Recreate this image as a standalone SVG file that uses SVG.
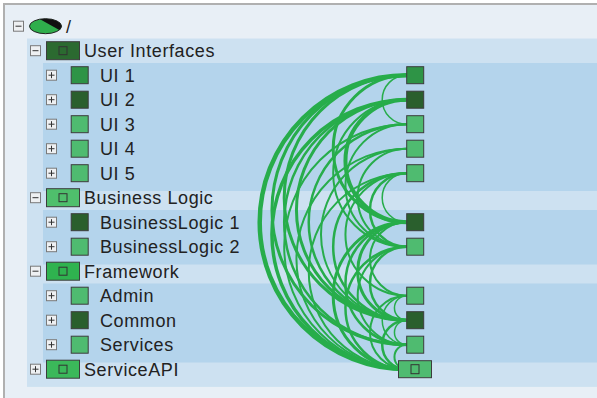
<svg xmlns="http://www.w3.org/2000/svg" width="597" height="398" viewBox="0 0 597 398">
<defs>
<style>
.t{font-family:"Liberation Sans",Arial,sans-serif;font-size:18px;fill:#222;letter-spacing:0.6px}
.exp{fill:#eef0f2;stroke:#7a7a7a;stroke-width:1}
.sign{stroke:#333;stroke-width:1}
.nb{stroke:#3c3c3c;stroke-width:1}
.dk{fill:#2a5f2d}.md{fill:#2e9446}.lt{fill:#4fbb70}
.e{fill:none;stroke:#27ad4b;stroke-linecap:round}
.w1{stroke-width:1.5}.w2{stroke-width:2}.w25{stroke-width:2.5}.w3{stroke-width:3}.w35{stroke-width:3.5}.w4{stroke-width:4}.w45{stroke-width:4.5}
.inner{fill:none;stroke:#333;stroke-width:1}
</style>
<clipPath id="rootclip"><ellipse cx="45.5" cy="26.2" rx="16" ry="7.5"/></clipPath>
</defs>
<rect x="0" y="0" width="597" height="398" fill="#ffffff"/>
<rect x="4" y="4" width="600" height="400" fill="#e8eff6" stroke="#b0b0b0" stroke-width="2"/>
<rect x="27" y="38.5" width="570" height="348.4" fill="#cde1f1"/>
<rect x="43" y="63" width="554" height="128" fill="#b4d4ec"/>
<rect x="43" y="210" width="554" height="54.5" fill="#b4d4ec"/>
<rect x="43" y="283.5" width="554" height="79" fill="#b4d4ec"/>

<g id="connectors">
<path class="e w1" d="M406.7,75.2 A24.5,24.5 0 0 0 406.7,124.2"/>
<path class="e w3" d="M406.7,75.2 A73.5,73.5 0 0 0 406.7,222.2"/>
<path class="e w3" d="M406.7,75.2 A122.5,122.5 0 0 0 406.7,320.2"/>
<path class="e w3" d="M406.7,75.2 A134.75,134.75 0 0 0 406.7,344.7"/>
<path class="e w45" d="M406.7,75.2 A147,147 0 0 0 406.7,369.2"/>
<path class="e w4" d="M406.7,99.7 A61.25,61.25 0 0 0 406.7,222.2"/>
<path class="e w2" d="M406.7,99.7 A73.5,73.5 0 0 0 406.7,246.7"/>
<path class="e w3" d="M406.7,99.7 A110.25,110.25 0 0 0 406.7,320.2"/>
<path class="e w25" d="M406.7,99.7 A122.5,122.5 0 0 0 406.7,344.7"/>
<path class="e w35" d="M406.7,99.7 A134.75,134.75 0 0 0 406.7,369.2"/>
<path class="e w2" d="M406.7,124.2 A61.25,61.25 0 0 0 406.7,246.7"/>
<path class="e w25" d="M406.7,124.2 A98,98 0 0 0 406.7,320.2"/>
<path class="e w2" d="M406.7,124.2 A122.5,122.5 0 0 0 406.7,369.2"/>
<path class="e w2" d="M406.7,148.7 A49,49 0 0 0 406.7,246.7"/>
<path class="e w2" d="M406.7,148.7 A85.75,85.75 0 0 0 406.7,320.2"/>
<path class="e w2" d="M406.7,148.7 A110.25,110.25 0 0 0 406.7,369.2"/>
<path class="e w1" d="M406.7,173.2 A24.5,24.5 0 0 0 406.7,222.2"/>
<path class="e w25" d="M406.7,173.2 A36.75,36.75 0 0 0 406.7,246.7"/>
<path class="e w2" d="M406.7,173.2 A61.25,61.25 0 0 0 406.7,295.7"/>
<path class="e w25" d="M406.7,173.2 A73.5,73.5 0 0 0 406.7,320.2"/>
<path class="e w2" d="M406.7,173.2 A98,98 0 0 0 406.7,369.2"/>
<path class="e w2" d="M406.7,222.2 A36.75,36.75 0 0 0 406.7,295.7"/>
<path class="e w3" d="M406.7,222.2 A49,49 0 0 0 406.7,320.2"/>
<path class="e w25" d="M406.7,222.2 A61.25,61.25 0 0 0 406.7,344.7"/>
<path class="e w3" d="M406.7,222.2 A73.5,73.5 0 0 0 406.7,369.2"/>
<path class="e w25" d="M406.7,246.7 A36.75,36.75 0 0 0 406.7,320.2"/>
<path class="e w2" d="M406.7,246.7 A49,49 0 0 0 406.7,344.7"/>
<path class="e w25" d="M406.7,246.7 A61.25,61.25 0 0 0 406.7,369.2"/>
<path class="e w1" d="M406.7,295.7 A12.25,12.25 0 0 0 406.7,320.2"/>
<path class="e w1" d="M406.7,295.7 A24.5,24.5 0 0 0 406.7,344.7"/>
<path class="e w2" d="M406.7,295.7 A36.75,36.75 0 0 0 406.7,369.2"/>
<path class="e w1" d="M406.7,320.2 A12.25,12.25 0 0 0 406.7,344.7"/>
<path class="e w25" d="M406.7,320.2 A24.5,24.5 0 0 0 406.7,369.2"/>
<path class="e w2" d="M406.7,344.7 A12.25,12.25 0 0 0 406.7,369.2"/>
</g>

<g id="root">
<rect class="exp" x="13.5" y="21.2" width="10" height="10"/>
<line class="sign" x1="15.5" y1="26.2" x2="21.5" y2="26.2"/>
<ellipse cx="45.5" cy="26.2" rx="16" ry="7.5" fill="#2fae4c"/>
<polygon clip-path="url(#rootclip)" points="36,17 62,17 62,31.5" fill="#111"/>
<ellipse cx="45.5" cy="26.2" rx="16" ry="7.5" fill="none" stroke="#222" stroke-width="1"/>
<text class="t" x="66" y="32.7">/</text>
</g>

<g id="user-interfaces">
<rect class="exp" x="30.5" y="45.7" width="10" height="10"/>
<line class="sign" x1="32.5" y1="50.7" x2="38.5" y2="50.7"/>
<rect class="nb" x="46.5" y="41.7" width="33" height="18" fill="#2b6a30"/>
<rect class="inner" x="59" y="46.7" width="8" height="8"/>
<text class="t" x="84" y="57.2">User Interfaces</text>
</g>

<g id="ui1">
<rect class="exp" x="46.5" y="70.2" width="10" height="10"/>
<line class="sign" x1="48.5" y1="75.2" x2="54.5" y2="75.2"/><line class="sign" x1="51.5" y1="72.2" x2="51.5" y2="78.2"/>
<rect class="nb md" x="71.2" y="66.7" width="17" height="17"/>
<text class="t" x="100" y="81.7">UI 1</text>
<rect class="nb md" x="406.7" y="66.7" width="17" height="17"/>
</g>
<g id="ui2">
<rect class="exp" x="46.5" y="94.7" width="10" height="10"/>
<line class="sign" x1="48.5" y1="99.7" x2="54.5" y2="99.7"/><line class="sign" x1="51.5" y1="96.7" x2="51.5" y2="102.7"/>
<rect class="nb dk" x="71.2" y="91.2" width="17" height="17"/>
<text class="t" x="100" y="106.2">UI 2</text>
<rect class="nb dk" x="406.7" y="91.2" width="17" height="17"/>
</g>
<g id="ui3">
<rect class="exp" x="46.5" y="119.2" width="10" height="10"/>
<line class="sign" x1="48.5" y1="124.2" x2="54.5" y2="124.2"/><line class="sign" x1="51.5" y1="121.2" x2="51.5" y2="127.2"/>
<rect class="nb lt" x="71.2" y="115.7" width="17" height="17"/>
<text class="t" x="100" y="130.7">UI 3</text>
<rect class="nb lt" x="406.7" y="115.7" width="17" height="17"/>
</g>
<g id="ui4">
<rect class="exp" x="46.5" y="143.7" width="10" height="10"/>
<line class="sign" x1="48.5" y1="148.7" x2="54.5" y2="148.7"/><line class="sign" x1="51.5" y1="145.7" x2="51.5" y2="151.7"/>
<rect class="nb lt" x="71.2" y="140.2" width="17" height="17"/>
<text class="t" x="100" y="155.2">UI 4</text>
<rect class="nb lt" x="406.7" y="140.2" width="17" height="17"/>
</g>
<g id="ui5">
<rect class="exp" x="46.5" y="168.2" width="10" height="10"/>
<line class="sign" x1="48.5" y1="173.2" x2="54.5" y2="173.2"/><line class="sign" x1="51.5" y1="170.2" x2="51.5" y2="176.2"/>
<rect class="nb lt" x="71.2" y="164.7" width="17" height="17"/>
<text class="t" x="100" y="179.7">UI 5</text>
<rect class="nb lt" x="406.7" y="164.7" width="17" height="17"/>
</g>

<g id="business-logic">
<rect class="exp" x="30.5" y="192.7" width="10" height="10"/>
<line class="sign" x1="32.5" y1="197.7" x2="38.5" y2="197.7"/>
<rect class="nb" x="46.5" y="188.7" width="33" height="18" fill="#4fbf6c"/>
<rect class="inner" x="59" y="193.7" width="8" height="8"/>
<text class="t" x="84" y="204.2">Business Logic</text>
</g>
<g id="businesslogic1">
<rect class="exp" x="46.5" y="217.2" width="10" height="10"/>
<line class="sign" x1="48.5" y1="222.2" x2="54.5" y2="222.2"/><line class="sign" x1="51.5" y1="219.2" x2="51.5" y2="225.2"/>
<rect class="nb dk" x="71.2" y="213.7" width="17" height="17"/>
<text class="t" x="100" y="228.7">BusinessLogic 1</text>
<rect class="nb dk" x="406.7" y="213.7" width="17" height="17"/>
</g>
<g id="businesslogic2">
<rect class="exp" x="46.5" y="241.7" width="10" height="10"/>
<line class="sign" x1="48.5" y1="246.7" x2="54.5" y2="246.7"/><line class="sign" x1="51.5" y1="243.7" x2="51.5" y2="249.7"/>
<rect class="nb lt" x="71.2" y="238.2" width="17" height="17"/>
<text class="t" x="100" y="253.2">BusinessLogic 2</text>
<rect class="nb lt" x="406.7" y="238.2" width="17" height="17"/>
</g>

<g id="framework">
<rect class="exp" x="30.5" y="266.2" width="10" height="10"/>
<line class="sign" x1="32.5" y1="271.2" x2="38.5" y2="271.2"/>
<rect class="nb" x="46.5" y="262.2" width="33" height="18" fill="#2fb34f"/>
<rect class="inner" x="59" y="267.2" width="8" height="8"/>
<text class="t" x="84" y="277.7">Framework</text>
</g>
<g id="admin">
<rect class="exp" x="46.5" y="290.7" width="10" height="10"/>
<line class="sign" x1="48.5" y1="295.7" x2="54.5" y2="295.7"/><line class="sign" x1="51.5" y1="292.7" x2="51.5" y2="298.7"/>
<rect class="nb lt" x="71.2" y="287.2" width="17" height="17"/>
<text class="t" x="100" y="302.2">Admin</text>
<rect class="nb lt" x="406.7" y="287.2" width="17" height="17"/>
</g>
<g id="common">
<rect class="exp" x="46.5" y="315.2" width="10" height="10"/>
<line class="sign" x1="48.5" y1="320.2" x2="54.5" y2="320.2"/><line class="sign" x1="51.5" y1="317.2" x2="51.5" y2="323.2"/>
<rect class="nb dk" x="71.2" y="311.7" width="17" height="17"/>
<text class="t" x="100" y="326.7">Common</text>
<rect class="nb dk" x="406.7" y="311.7" width="17" height="17"/>
</g>
<g id="services">
<rect class="exp" x="46.5" y="339.7" width="10" height="10"/>
<line class="sign" x1="48.5" y1="344.7" x2="54.5" y2="344.7"/><line class="sign" x1="51.5" y1="341.7" x2="51.5" y2="347.7"/>
<rect class="nb lt" x="71.2" y="336.2" width="17" height="17"/>
<text class="t" x="100" y="351.2">Services</text>
<rect class="nb lt" x="406.7" y="336.2" width="17" height="17"/>
</g>

<g id="serviceapi">
<rect class="exp" x="30.5" y="364.2" width="10" height="10"/>
<line class="sign" x1="32.5" y1="369.2" x2="38.5" y2="369.2"/><line class="sign" x1="35.5" y1="366.2" x2="35.5" y2="372.2"/>
<rect class="nb" x="46.5" y="360.2" width="33" height="18" fill="#3bb85a"/>
<rect class="inner" x="59" y="365.2" width="8" height="8"/>
<text class="t" x="84" y="375.7">ServiceAPI</text>
<rect class="nb lt" x="398.5" y="360.7" width="33" height="17"/>
<rect class="inner" x="411" y="364.7" width="8" height="9"/>
</g>
</svg>
